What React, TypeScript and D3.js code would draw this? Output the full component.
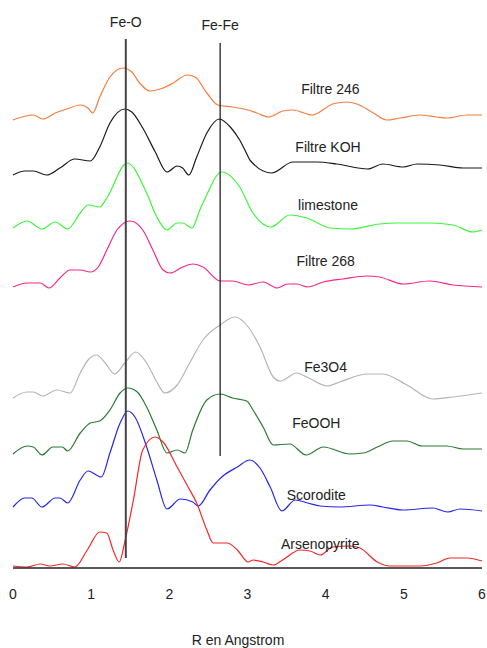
import React from "react";
import * as d3 from "d3";

// R (Angstrom) , amplitude (arbitrary units, stacked offset included)
const filtre246: [number, number][] = [
  [0, 448], [0.26, 453], [0.38, 449], [0.54, 455], [0.69, 459], [0.86, 463], [0.96, 460], [1.02, 455],
  [1.11, 471], [1.24, 491], [1.41, 500], [1.52, 496], [1.62, 485], [1.75, 477], [1.92, 480], [2.05, 485],
  [2.23, 493], [2.33, 491], [2.48, 475], [2.62, 463], [2.81, 461], [3.01, 458], [3.12, 455], [3.27, 451],
  [3.45, 457], [3.58, 458], [3.83, 453], [4.09, 464], [4.27, 466], [4.4, 464], [4.61, 455], [4.78, 448],
  [4.95, 450], [5.21, 453], [5.42, 451], [5.55, 450], [5.81, 453], [6.0, 453],
];
const filtreKOH: [number, number][] = [
  [0, 393], [0.15, 397], [0.26, 397], [0.43, 393], [0.6, 400], [0.79, 409], [0.99, 407], [1.11, 421],
  [1.24, 445], [1.43, 459], [1.52, 456], [1.66, 440], [1.82, 416], [1.97, 396], [2.1, 402], [2.17, 400],
  [2.25, 393], [2.35, 411], [2.48, 435], [2.64, 449], [2.78, 441], [2.9, 428], [3.01, 411], [3.03, 408],
  [3.31, 395], [3.58, 406], [3.89, 406], [4.14, 404], [4.54, 399], [4.73, 404], [4.99, 401], [5.17, 404],
  [5.46, 403], [5.76, 400], [6.0, 400],
];
const limestone: [number, number][] = [
  [0, 340], [0.18, 347], [0.37, 339], [0.54, 346], [0.7, 339], [0.86, 355], [0.96, 363], [1.11, 361],
  [1.2, 370], [1.46, 405], [1.71, 375], [1.84, 351], [1.97, 338], [2.1, 345], [2.17, 345], [2.29, 340],
  [2.39, 358], [2.46, 370], [2.67, 396], [2.9, 381], [3.07, 355], [3.3, 341], [3.54, 353], [3.76, 350],
  [4.06, 340], [4.31, 339], [4.69, 344], [4.91, 345], [5.33, 345], [5.63, 343], [5.88, 336], [6.0, 338],
];
const filtre268: [number, number][] = [
  [0, 281], [0.18, 285], [0.35, 285], [0.46, 280], [0.6, 290], [0.73, 298], [0.86, 298], [0.99, 296],
  [1.09, 301], [1.2, 318], [1.33, 338], [1.5, 347], [1.66, 338], [1.79, 318], [1.92, 298], [2.01, 295],
  [2.17, 301], [2.3, 304], [2.43, 301], [2.65, 287], [2.81, 287], [3.01, 283], [3.2, 286], [3.38, 280],
  [3.51, 284], [3.63, 284], [3.77, 281], [3.97, 286], [4.22, 289], [4.53, 292], [4.69, 291], [4.99, 284],
  [5.33, 287], [5.63, 283], [6.0, 281],
];
const fe3o4: [number, number][] = [
  [0, 170], [0.18, 176], [0.26, 176], [0.38, 172], [0.56, 178], [0.73, 175], [0.86, 195], [0.96, 208],
  [1.07, 213], [1.18, 205], [1.3, 194], [1.43, 205], [1.57, 216], [1.71, 205], [1.84, 186], [1.94, 175],
  [2.1, 183], [2.26, 205], [2.43, 228], [2.65, 243], [2.84, 251], [3.01, 241], [3.16, 221], [3.33, 191],
  [3.42, 187], [3.63, 195], [3.76, 191], [4.02, 182], [4.18, 186], [4.53, 194], [4.73, 194], [5.04, 183],
  [5.37, 169], [5.63, 171], [6.0, 175],
];
const feooh: [number, number][] = [
  [0, 114], [0.18, 122], [0.26, 121], [0.37, 113], [0.51, 121], [0.63, 121], [0.7, 117], [0.86, 135],
  [0.99, 145], [1.11, 147], [1.24, 158], [1.37, 175], [1.47, 180], [1.59, 176], [1.71, 161], [1.84, 138],
  [1.97, 115], [2.1, 118], [2.2, 115], [2.3, 138], [2.48, 168], [2.65, 174], [2.81, 170], [2.99, 167],
  [3.07, 158], [3.2, 141], [3.33, 123], [3.54, 124], [3.75, 113], [3.97, 121], [4.31, 114], [4.48, 115],
  [4.66, 121], [4.86, 127], [5.04, 127], [5.23, 122], [5.55, 122], [5.76, 119], [6.0, 119],
];
const scorodite: [number, number][] = [
  [0, 61], [0.15, 70], [0.24, 70], [0.37, 61], [0.54, 70], [0.6, 70], [0.7, 65], [0.86, 88], [0.96, 97],
  [1.13, 91], [1.24, 115], [1.37, 145], [1.47, 157], [1.56, 151], [1.71, 121], [1.84, 88], [1.97, 59],
  [2.14, 69], [2.3, 66], [2.37, 62], [2.52, 78], [2.67, 91], [2.87, 101], [3.03, 108], [3.16, 100],
  [3.29, 81], [3.44, 57], [3.61, 68], [3.77, 65], [3.93, 62], [4.18, 61], [4.57, 63], [4.73, 61],
  [4.99, 58], [5.37, 60], [5.56, 56], [5.72, 59], [6.0, 57],
];
const arsenopyrite: [number, number][] = [
  [0, 2], [0.18, 1], [0.35, 4], [0.47, 2], [0.64, 4], [0.79, 1], [0.95, 18], [1.11, 36], [1.2, 35],
  [1.28, 18], [1.36, 6], [1.43, 26], [1.54, 68], [1.66, 118], [1.82, 131], [1.92, 126], [2.1, 101],
  [2.24, 81], [2.35, 65], [2.48, 38], [2.56, 25], [2.74, 25], [2.87, 18], [3.01, 6], [3.07, 8], [3.2, 6],
  [3.33, 3], [3.45, 8], [3.67, 18], [3.8, 17], [3.93, 13], [4.09, 21], [4.31, 22], [4.44, 20], [4.66, 6],
  [4.82, 2], [5.21, 2], [5.42, 5], [5.59, 10], [5.81, 10], [6.0, 7],
];

const seriesNames = ["Filtre 246", "Filtre KOH", "limestone", "Filtre 268", "Fe3O4", "FeOOH", "Scorodite", "Arsenopyrite"];
const seriesData = [filtre246, filtreKOH, limestone, filtre268, fe3o4, feooh, scorodite, arsenopyrite];
const seriesColors = ["#f47d3f", "#1a1a1a", "#3df53d", "#f5278a", "#b5b5b5", "#2a7a34", "#2525f0", "#f02828"];
// label anchor: [R center, amplitude of baseline]
const labelPos: [number, number][] = [
  [4.06, 474], [4.03, 416], [4.03, 358], [4.0, 302], [4.0, 196], [3.88, 140], [3.88, 68], [3.93, 19],
];

const refNames = ["Fe-O", "Fe-Fe"];
const refR = [1.443, 2.65];
const refTop = [529, 525];
const refBottom = [10, 112];
const refLabelAmp = [541, 538];

const xTicks = [0, 1, 2, 3, 4, 5, 6];
const xTitle = "R en Angstrom";

export default function App() {
  const W = 487;
  const H = 648;
  const x = d3.scaleLinear().domain([0, 6]).range([13, 482]);
  const y = d3.scaleLinear().domain([0, 568]).range([568, 0]);
  const line = d3
    .line<[number, number]>()
    .x((d) => x(d[0]))
    .y((d) => y(d[1]))
    .curve(d3.curveMonotoneX);
  const font = "'Liberation Sans', Arial, sans-serif";

  return (
    <div style={{ position: "absolute", left: 0, top: 0 }}>
      <svg width={W} height={H} style={{ display: "block", background: "#fff" }} fontFamily={font}>
        <rect x={0} y={0} width={W} height={H} fill="#fff" />
        {seriesData.map((d, i) => (
          <path key={i} d={line(d) || ""} fill="none" stroke={seriesColors[i]} strokeWidth={1.2} />
        ))}
        {refR.map((r, i) => (
          <line
            key={i}
            x1={x(r)}
            x2={x(r)}
            y1={y(refTop[i])}
            y2={y(refBottom[i])}
            stroke={i === 0 ? "#444" : "#111"}
            strokeWidth={i === 0 ? 2 : 1.2}
          />
        ))}
        {refNames.map((n, i) => (
          <text key={n} x={x(refR[i])} y={y(refLabelAmp[i])} textAnchor="middle" fontSize={14} fill="#222">
            {n}
          </text>
        ))}
        {seriesNames.map((n, i) => (
          <text key={n} x={x(labelPos[i][0])} y={y(labelPos[i][1])} textAnchor="middle" fontSize={14} fill="#222">
            {n}
          </text>
        ))}
        <line x1={x(0)} x2={x(6)} y1={y(0)} y2={y(0)} stroke="#222" strokeWidth={1.6} />
        {xTicks.map((t) => (
          <text key={t} x={x(t)} y={599} textAnchor="middle" fontSize={14} fill="#222">
            {t}
          </text>
        ))}
        <text x={238} y={645} textAnchor="middle" fontSize={14} fill="#222">
          {xTitle}
        </text>
      </svg>
    </div>
  );
}
